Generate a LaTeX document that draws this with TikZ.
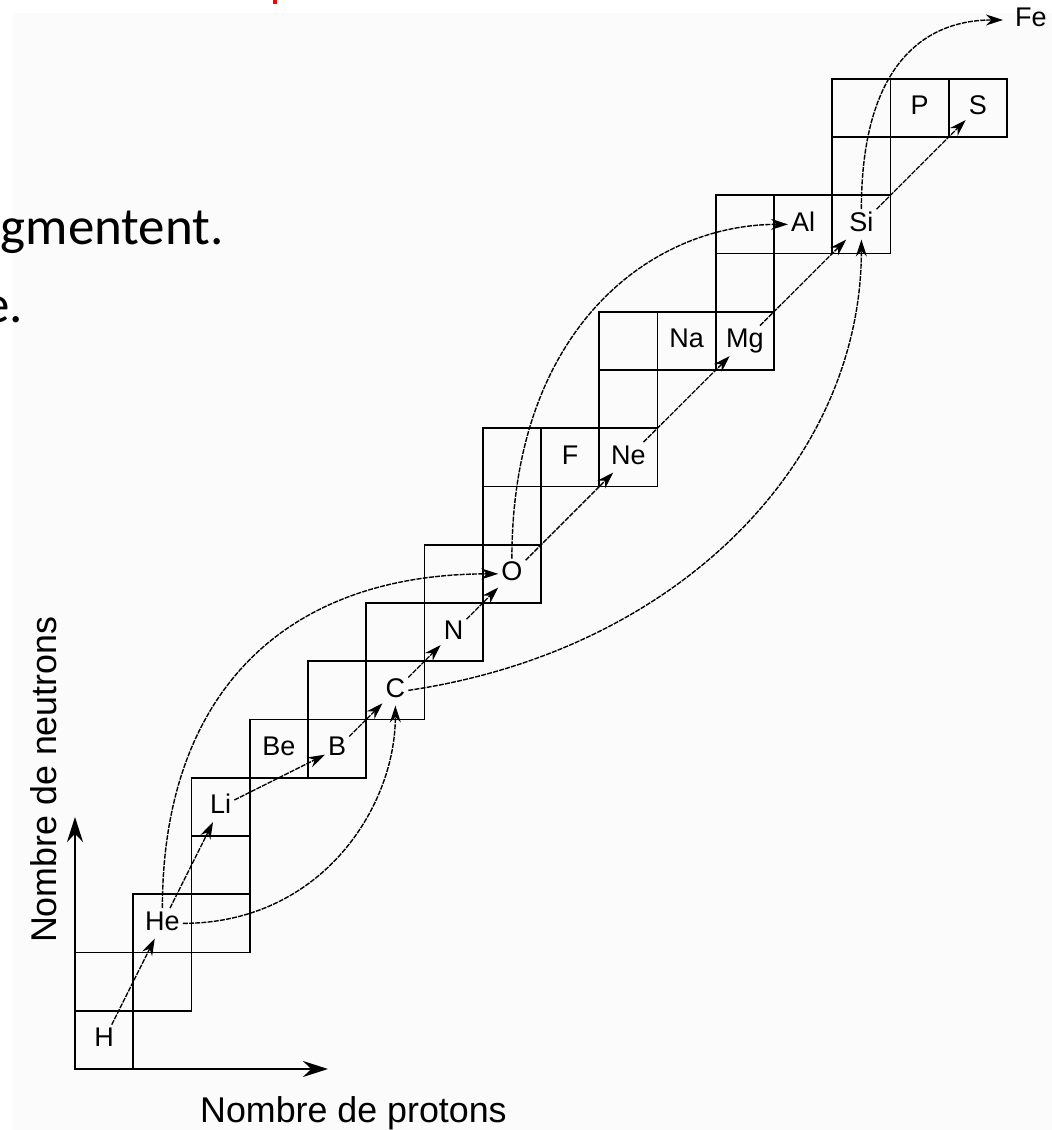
\documentclass[tikz,border=0pt]{standalone}
\usepackage{fontspec}
\setmainfont{Liberation Sans}
\newfontfamily\slidefont{Carlito}
\usetikzlibrary{arrows.meta}

\begin{document}
\begin{tikzpicture}[x=58.25pt, y=58.25pt,
  cell/.style={draw, line width=1.9pt},
  elt/.style={inner sep=3pt, text height=19pt, text depth=5pt,
    font=\fontsize{27}{29}\selectfont},
  axislabel/.style={inner sep=0pt, font=\fontsize{35.8}{40}\selectfont},
  slide/.style={anchor=base east, inner sep=0pt,
    font=\slidefont\fontsize{53}{60}\selectfont},
  link/.style={line width=1.4pt, dash pattern=on 5pt off 1.2pt,
    -{Stealth[length=17pt,width=11pt]}},
  axis/.style={line width=1.9pt, -{Stealth[length=25pt,width=16pt]}}
]
  \useasboundingbox (-1.2876,-1.0472) rectangle (16.7725,18.3519);
  \fill[black!1.5] (-1.0644,-1.0472) rectangle (16.7725,18.1288);

  % leftovers of the slide
  \node[slide] (slideA) at (2.558,14.146) {gmentent.};
  \node[slide] (slideB) at (-0.893,12.807) {e.};
  \fill[red] (3.399,18.283) rectangle (3.468,18.352);

  % valley of stability
  \foreach \c/\r in {0/0,0/1,1/1,1/2,2/2,2/3,2/4,3/5,4/5,4/6,5/6,5/7,6/7,
      6/8,7/8,7/9,7/10,8/10,9/10,9/11,9/12,10/12,11/12,11/13,11/14,
      12/14,13/14,13/15,13/16,14/16,15/16}
    \draw[cell] (\c,\r) rectangle ++(1,1);

  \foreach \name/\c/\r in {H/0/0,He/1/2,Li/2/4,Be/3/5,B/4/5,C/5/6,N/6/7,
      O/7/8,F/8/10,Ne/9/10,Na/10/12,Mg/11/12,Al/12/14,Si/13/14,P/14/16,S/15/16}
    \node[elt] (\name) at (\c+0.5,\r+0.5) {\name};
  \node[elt, anchor=west, inner xsep=12pt] (Fe) at (15.93,18.009) {Fe};

  % axes
  \coordinate (origin) at (0,0);
  \coordinate (xend) at (4.343,0);
  \coordinate (yend) at (0,4.326);
  \draw[axis] (origin) -- (xend);
  \draw[axis] (origin) -- (yend);
  \node[axislabel, anchor=base west] (xlabel) at (2.146,-0.927) {Nombre de protons};
  \node[axislabel, anchor=base west, rotate=90] (ylabel) at (-0.326,2.16) {Nombre de neutrons};

  % fusion chains
  \foreach \a/\b in {H/He,He/Li,Li/B,B/C,C/N,N/O,O/Ne,Ne/Mg,Mg/Si,Si/S}
    \draw[link] (\a) -- (\b);
  \draw[link] (He.north) .. controls +(0,3.6) and +(-3.75,0) .. (O.west);
  \draw[link] (He.east) .. controls +(2.37,0) and +(0,-1.75) .. (C.south);
  \draw[link] (C.east) .. controls +(4.67,0.69) and +(0,-3.78) .. (Si.south);
  \draw[link] (O.north) .. controls +(0,3.93) and +(-2.37,0) .. (Al.west);
  \draw[link] (Si.north) .. controls +(0,2.39) and +(-1.42,0) .. (Fe.west);
\end{tikzpicture}
\end{document}
